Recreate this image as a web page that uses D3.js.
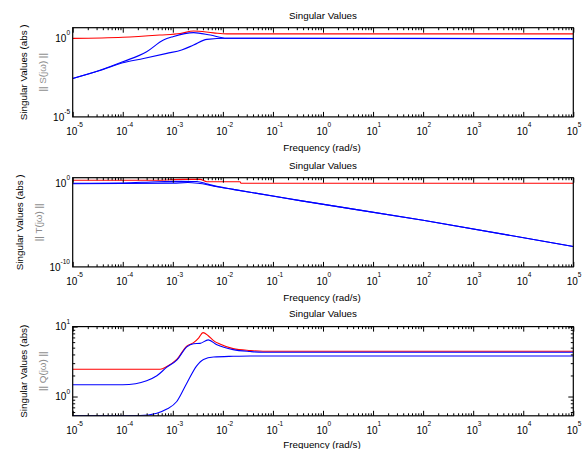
<!DOCTYPE html>
<html>
<head>
<meta charset="utf-8">
<script src="https://cdn.jsdelivr.net/npm/d3@7/dist/d3.min.js"></script>
<style>
  html, body { margin: 0; padding: 0; background: #fff; }
  svg { display: block; font-family: "Liberation Sans", Arial, sans-serif; }
</style>
</head>
<body>
<svg id="chart" width="584" height="449"></svg>
<script>
// ---- data: singular values vs frequency (rad/s) ----
const xTickExponents = [-5, -4, -3, -2, -1, 0, 1, 2, 3, 4, 5];

// Panel 1: || S(jw) ||
const sRedFreq   = [1e-5, 1e-4, 5.5e-4, 1.4e-3, 2.6e-3, 6.5e-3, 1.2e-2, 1e5];
const sRedVal    = [0.98, 1.15, 1.6, 2.0, 2.9, 2.2, 1.9, 1.9];
const sBlue1Freq = [1e-5, 3.5e-5, 1e-4, 3e-4, 6.5e-4, 1e-3, 2.6e-3, 5.6e-3, 1.2e-2, 1e5];
const sBlue1Val  = [2.8e-3, 9.3e-3, 3.2e-2, 0.14, 0.78, 1.26, 2.3, 1.6, 1.0, 0.95];
const sBlue2Freq = [1e-5, 3.5e-5, 1e-4, 2.6e-4, 7.6e-4, 1.5e-3, 2.6e-3, 4.8e-3, 1.2e-2, 1e5];
const sBlue2Val  = [2.8e-3, 8.9e-3, 2.8e-2, 5.2e-2, 0.11, 0.18, 0.37, 0.85, 1.0, 0.95];

// Panel 2: || T(jw) ||
const tRedFreq   = [1e-5, 5e-4, 1.6e-3, 3.5e-3, 4.8e-3, 2.2e-2, 2.3e-2, 1e5];
const tRedVal    = [2.3, 2.3, 3.0, 3.0, 1.55, 1.55, 1.0, 1.0];
const tBlue1Freq = [1e-5, 1e-4, 5e-4, 1.5e-3, 3e-3, 5e-3, 8e-3, 1.6e-2, 3.5e-1, 1e2, 1e5];
const tBlue1Val  = [1.0, 1.1, 1.55, 1.7, 1.65, 0.8, 0.4, 0.19, 8.5e-3, 3.8e-5, 2.8e-8];
const tBlue2Freq = [1e-5, 1e-3, 2e-3, 3.2e-3, 6.3e-3, 1.26e-2, 1.6e-2, 3.5e-1, 1e2, 1e5];
const tBlue2Val  = [0.9, 1.05, 1.25, 1.0, 0.5, 0.24, 0.19, 8.5e-3, 3.8e-5, 2.8e-8];

// Panel 3: || Q(jw) ||
const qRedFreq   = [1e-5, 5.6e-4, 7.6e-4, 1.2e-3, 1.9e-3, 2.6e-3, 3.3e-3, 4.0e-3, 5.1e-3, 6.5e-3, 8.7e-3, 1.6e-2, 3.5e-2, 6.3e-2, 1e5];
const qRedVal    = [2.46, 2.46, 2.69, 3.39, 5.25, 5.89, 6.92, 8.2, 7.41, 6.31, 5.62, 4.84, 4.55, 4.45, 4.45];
const qBlue1Freq = [1e-5, 1.0e-4, 1.8e-4, 3.0e-4, 4.8e-4, 7.6e-4, 1.2e-3, 1.9e-3, 2.6e-3, 3.5e-3, 5.1e-3, 7.6e-3, 1.6e-2, 3.5e-2, 6.3e-2, 1e5];
const qBlue1Val  = [1.47, 1.47, 1.52, 1.68, 1.98, 2.63, 3.31, 5.13, 5.69, 5.75, 6.46, 5.5, 4.68, 4.4, 4.3, 4.3];
const qBlue2Freq = [1e-5, 2.2e-4, 4.8e-4, 7.6e-4, 1.2e-3, 1.9e-3, 3.0e-3, 4.1e-3, 6.5e-3, 1.6e-2, 3.5e-2, 1e5];
const qBlue2Val  = [0.536, 0.536, 0.578, 0.661, 0.849, 1.55, 2.75, 3.39, 3.67, 3.76, 3.8, 3.8];

const panels = [
  { top: 27.7, yDomain: [1e-5, 4.7], yLabelExp: [0, -5], gray: "||  S(jω)  ||", ylabel: "Singular Values (abs )", ylabelX: 27, grayX: 45.5, yMinor: false,
    series: [
      { f: sRedFreq, v: sRedVal, c: "#ff0000" },
      { f: sBlue1Freq, v: sBlue1Val, c: "#0000ff" },
      { f: sBlue2Freq, v: sBlue2Val, c: "#0000ff" } ] },
  { top: 177.7, yDomain: [1e-10, 4.7], yLabelExp: [0, -10], gray: "||  T(jω)  ||", ylabel: "Singular Values (abs )", ylabelX: 23, grayX: 41.5, yMinor: false,
    series: [
      { f: tRedFreq, v: tRedVal, c: "#ff0000" },
      { f: tBlue1Freq, v: tBlue1Val, c: "#0000ff" },
      { f: tBlue2Freq, v: tBlue2Val, c: "#0000ff" } ] },
  { top: 326.6, yDomain: [0.53, 10], yLabelExp: [1, 0], gray: "||  Q(jω)  ||", ylabel: "Singular Values (abs)", ylabelX: 27, grayX: 45.5, yMinor: true,
    series: [
      { f: qRedFreq, v: qRedVal, c: "#ff0000" },
      { f: qBlue1Freq, v: qBlue1Val, c: "#0000ff" },
      { f: qBlue2Freq, v: qBlue2Val, c: "#0000ff" } ] }
];

const left = 72.7, right = 573.3, height = 89.2;
const svg = d3.select("#chart");

const x = d3.scaleLog().domain([1e-5, 1e5]).range([left, right]);

panels.forEach((p, i) => {
  const top = p.top, bottom = top + height;
  const y = d3.scaleLog().domain(p.yDomain).range([bottom, top]);
  const g = svg.append("g");

  // clip region for the curves
  const clipId = "clip" + i;
  g.append("clipPath").attr("id", clipId)
    .append("rect").attr("x", left).attr("y", top).attr("width", right - left).attr("height", height);

  const line = d3.line()
    .x(d => x(d[0]))
    .y(d => y(d[1]))
    .curve(d3.curveMonotoneX);

  const curves = g.append("g").attr("clip-path", `url(#${clipId})`);
  p.series.forEach(s => {
    const pts = s.f.map((f, k) => [f, s.v[k]]);
    curves.append("path")
      .attr("d", line(pts))
      .attr("fill", "none")
      .attr("stroke", s.c)
      .attr("stroke-width", 1.1);
  });

  // frame
  g.append("rect")
    .attr("x", left).attr("y", top)
    .attr("width", right - left).attr("height", height)
    .attr("fill", "none").attr("stroke", "#000").attr("stroke-width", 1.2);

  // x ticks, drawn inward on top and bottom edges
  const majors = xTickExponents.map(e => Math.pow(10, e));
  const minors = x.ticks(20).filter(t => !majors.some(m => Math.abs(Math.log10(t) - Math.log10(m)) < 1e-9));
  const addAxis = (axis, ty) => {
    const a = g.append("g").attr("transform", `translate(0,${ty})`).call(axis);
    a.select(".domain").remove();
    a.selectAll("line").attr("stroke", "#000").attr("stroke-width", 1);
  };
  addAxis(d3.axisBottom(x).tickValues(minors).tickSize(-2.5).tickFormat(""), bottom);
  addAxis(d3.axisBottom(x).tickValues(majors).tickSize(-5).tickFormat(""), bottom);
  addAxis(d3.axisTop(x).tickValues(minors).tickSize(-2.5).tickFormat(""), top);
  addAxis(d3.axisTop(x).tickValues(majors).tickSize(-5).tickFormat(""), top);

  // y minor ticks (left and right edges)
  if (p.yMinor) {
    const yAll = y.ticks(20);
    const yMaj = yAll.filter(t => Math.abs(Math.log10(t) - Math.round(Math.log10(t))) < 1e-9);
    const yMin = yAll.filter(t => !yMaj.includes(t));
    const addY = (axis, tx) => {
      const a = g.append("g").attr("transform", `translate(${tx},0)`).call(axis);
      a.select(".domain").remove();
      a.selectAll("line").attr("stroke", "#000").attr("stroke-width", 1);
    };
    addY(d3.axisLeft(y).tickValues(yMin).tickSize(-2.5).tickFormat(""), left);
    addY(d3.axisLeft(y).tickValues(yMaj).tickSize(-5).tickFormat(""), left);
    addY(d3.axisRight(y).tickValues(yMin).tickSize(-2.5).tickFormat(""), right);
    addY(d3.axisRight(y).tickValues(yMaj).tickSize(-5).tickFormat(""), right);
  }

  // x tick labels: 10 with superscript exponent
  xTickExponents.forEach(e => {
    const xx = x(Math.pow(10, e));
    g.append("text")
      .attr("x", xx - 1).attr("y", bottom + 18)
      .attr("text-anchor", "middle")
      .attr("font-size", 10).attr("fill", "#000")
      .text("10");
    g.append("text")
      .attr("x", xx + 4.5).attr("y", bottom + 10.5)
      .attr("font-size", 6.5).attr("fill", "#000")
      .text(String(e));
  });

  // y tick labels, right-aligned including the exponent
  p.yLabelExp.forEach(e => {
    const yy = y(Math.pow(10, e));
    const t = g.append("text")
      .attr("x", 70).attr("y", yy + 3.8)
      .attr("text-anchor", "end")
      .attr("font-size", 10).attr("fill", "#000");
    t.append("tspan").text("10");
    t.append("tspan").attr("font-size", 6.5).attr("dy", -6.8).text(String(e));
  });

  // title
  g.append("text")
    .attr("x", (left + right) / 2).attr("y", top - 9.2)
    .attr("text-anchor", "middle")
    .attr("font-size", 9.8).attr("fill", "#000")
    .text("Singular Values");

  // x label
  g.append("text")
    .attr("x", (left + right) / 2 - 1).attr("y", Math.min(bottom + 34, 447.5))
    .attr("text-anchor", "middle")
    .attr("font-size", 9.8).attr("fill", "#000")
    .text("Frequency (rad/s)");

  // y labels (rotated)
  const cy = (top + bottom) / 2;
  g.append("text")
    .attr("transform", `translate(${p.ylabelX},${cy}) rotate(-90)`)
    .attr("text-anchor", "middle")
    .attr("font-size", 9.8).attr("fill", "#000")
    .text(p.ylabel);
  g.append("text")
    .attr("transform", `translate(${p.grayX},${cy}) rotate(-90)`)
    .attr("text-anchor", "middle")
    .attr("font-size", 9.8).attr("fill", "#8c8c8c")
    .text(p.gray);
});
</script>
</body>
</html>
